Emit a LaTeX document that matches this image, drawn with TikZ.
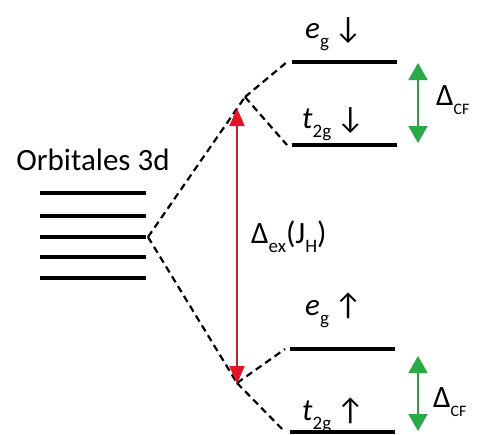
\documentclass[tikz,border=0pt]{standalone}
\usepackage{fontspec}
\setmainfont{Carlito}
\usetikzlibrary{arrows.meta}

\definecolor{exred}{RGB}{180,35,50}
\definecolor{exhead}{RGB}{225,20,40}
\definecolor{cfgreen}{RGB}{55,150,65}
\definecolor{cfhead}{RGB}{40,170,70}

\newcommand\lowsub[1]{\raisebox{-0.3em}{\fontsize{19}{19}\selectfont #1}}
\newcommand\capsub[1]{\raisebox{-0.3em}{\fontsize{16}{16}\selectfont #1}}

\begin{document}
\begin{tikzpicture}[
    x=1pt, y=-1pt,
    level/.style={line width=3.5pt},
    split/.style={line width=2.2pt, dash pattern=on 7pt off 4.5pt},
    lbl/.style={font=\fontsize{31}{34}\selectfont, inner sep=0pt},
    exarrow/.style={{Triangle[width=15pt,length=18pt,color=exhead]}-{Triangle[width=15pt,length=18pt,color=exhead]}, line width=2pt, draw=exred},
    cfarrow/.style={{Triangle[width=19pt,length=17pt,color=cfhead]}-{Triangle[width=19pt,length=17pt,color=cfhead]}, line width=2pt, draw=cfgreen},
]
\useasboundingbox (0,0) rectangle (486,434);

% 3d levels
\foreach \y [count=\i] in {193,216,237,257,278} {
    \coordinate (d\i l) at (40,\y);
    \coordinate (d\i r) at (146,\y);
    \draw[level] (d\i l) -- (d\i r);
}
\node[lbl] (orb) at (93,160) {Orbitales 3d};

% split levels
\coordinate (egdnL) at (292,62);  \coordinate (egdnR) at (397,62);
\coordinate (tgdnL) at (292,145); \coordinate (tgdnR) at (397,145);
\coordinate (egupL) at (290,349); \coordinate (egupR) at (395,349);
\coordinate (tgupL) at (290,432); \coordinate (tgupR) at (395,432);
\draw[level] (egdnL) -- (egdnR);
\draw[level] (tgdnL) -- (tgdnR);
\draw[level] (egupL) -- (egupR);
\draw[level] (tgupL) -- (tgupR);

% forks
\coordinate (fork) at (148,237);
\coordinate (dnv) at (245,97);
\coordinate (upv) at (237,383);
\draw[split] (fork) -- (dnv);
\draw[split] (fork) -- (upv);
\draw[split] (dnv) -- ([xshift=-5pt]egdnL);
\draw[split] (dnv) -- ([xshift=-5pt]tgdnL);
\draw[split] (upv) -- ([xshift=-5pt]egupL);
\draw[split] (upv) -- ([xshift=-5pt]tgupL);

% labels
\node[lbl, anchor=base west] (egdn) at (305,38) {\textit{e}\lowsub{g}\,↓};
\node[lbl, anchor=base west] (tgdn) at (302,128) {\textit{t}\lowsub{2g}\,↓};
\node[lbl, anchor=base west] (egup) at (305,315) {\textit{e}\lowsub{g}\,↑};
\node[lbl, anchor=base west] (tgup) at (302,420) {\textit{t}\lowsub{2g}\,↑};

% exchange splitting
\coordinate (extop) at (237,108);
\coordinate (exbot) at (237,384);
\draw[exarrow] (exbot) -- (extop);
\node[lbl, anchor=base west] (ex) at (251,243) {Δ\lowsub{ex}(J\lowsub{H})};

% crystal field splitting
\coordinate (cfdnT) at (418,63);  \coordinate (cfdnB) at (418,143);
\coordinate (cfupT) at (418,356); \coordinate (cfupB) at (418,431);
\draw[cfarrow] (cfdnT) -- (cfdnB);
\draw[cfarrow] (cfupT) -- (cfupB);
\node[lbl, anchor=base west] (cfdn) at (436,105) {Δ\capsub{CF}};
\node[lbl, anchor=base west] (cfup) at (433,407) {Δ\capsub{CF}};
\end{tikzpicture}
\end{document}
